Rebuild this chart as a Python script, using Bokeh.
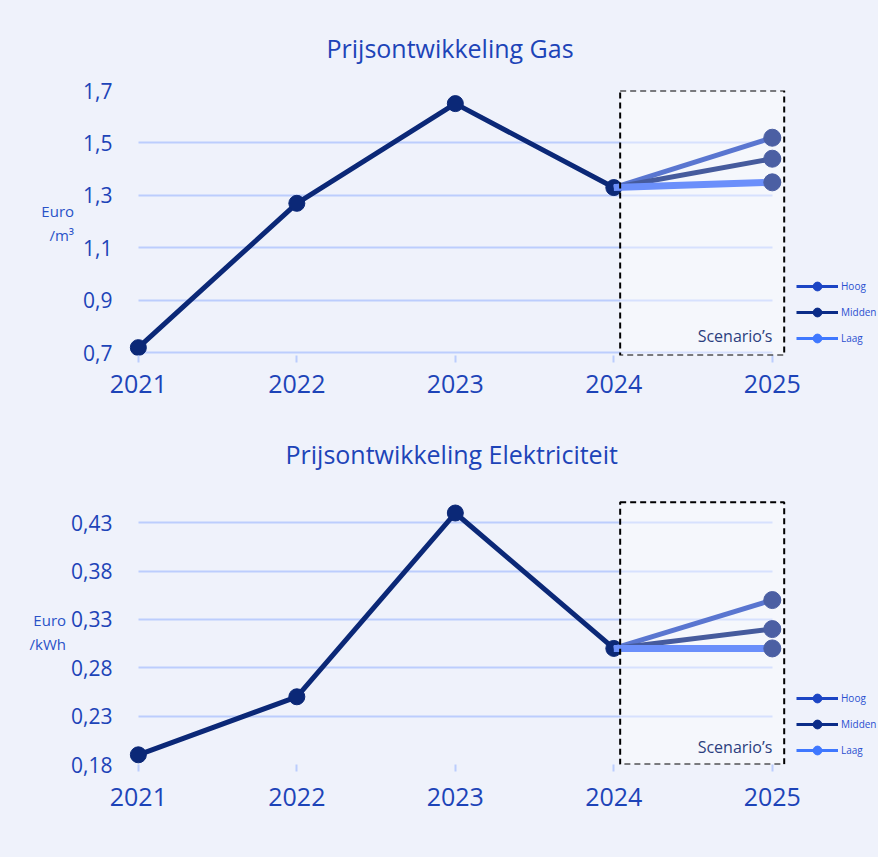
from bokeh.plotting import figure
from bokeh.models import (ColumnDataSource, FixedTicker, Legend, LegendItem, Label,
                          BoxAnnotation, Range1d)
from bokeh.layouts import column
from bokeh.embed import file_html
from bokeh.resources import INLINE

# ---------------- data ----------------
years = [2021, 2022, 2023, 2024]
scenario_year = 2025
scenario_names = ["Hoog", "Midden", "Laag"]

gas_values = [0.72, 1.27, 1.65, 1.33]
gas_scenarios = [1.52, 1.44, 1.35]          # Hoog, Midden, Laag (2025)

elec_values = [0.19, 0.25, 0.44, 0.30]
elec_scenarios = [0.35, 0.32, 0.30]         # Hoog, Midden, Laag (2025)

x_ticks = [2021, 2022, 2023, 2024, 2025]
x_tick_labels = ["2021", "2022", "2023", "2024", "2025"]
gas_ticks = [0.7, 0.9, 1.1, 1.3, 1.5, 1.7]
gas_tick_labels = ["0,7", "0,9", "1,1", "1,3", "1,5", "1,7"]
elec_ticks = [0.18, 0.23, 0.28, 0.33, 0.38, 0.43]
elec_tick_labels = ["0,18", "0,23", "0,28", "0,33", "0,38", "0,43"]

# ---------------- style ----------------
FONT = "Open Sans"
BG = "#eff2fb"
BLUE_TEXT = "#1d44b8"
NAVY = "#0b2877"
GRID = "#bccdfd"
SCEN_LINE = {"Hoog": "#5a76d0", "Midden": "#465b9d", "Laag": "#6b8ffb"}
SCEN_WIDTH = {"Hoog": 5, "Midden": 5, "Laag": 7}
SCEN_MARKER = "#4b5fa3"
LEG_COLORS = {"Hoog": "#1c45c4", "Midden": "#0b2c88", "Laag": "#3f78ff"}

FRAME_W = 756
LEFT = 122
X_START, X_END = 2020.9, 2025.67


def make_chart(title, values, scen_values, yticks, ylabels, yrange, box_top,
               unit_text, scen_label_y, top, frame_h, bottom, title_standoff,
               unit_standoff, xlabel_standoff, legend_vy, title_offset):
    p = figure(frame_width=FRAME_W, frame_height=frame_h,
               x_range=Range1d(X_START, X_END), y_range=Range1d(*yrange),
               output_backend="svg", toolbar_location=None,
               min_border_left=LEFT, min_border_right=0,
               min_border_top=top, min_border_bottom=bottom)
    p.background_fill_color = BG
    p.border_fill_color = BG
    p.outline_line_color = None

    p.title.text = title
    p.title.align = "left"
    p.title.offset = title_offset
    p.title.text_font = FONT
    p.title.text_font_size = "25px"
    p.title.text_font_style = "normal"
    p.title.text_color = BLUE_TEXT
    p.title.standoff = title_standoff

    # axes
    p.xaxis.ticker = FixedTicker(ticks=x_ticks)
    p.xaxis.major_label_overrides = dict(zip(x_ticks, x_tick_labels))
    p.xaxis.axis_line_color = None
    p.xaxis.major_tick_line_color = GRID
    p.xaxis.major_tick_line_width = 2
    p.xaxis.major_tick_out = 7
    p.xaxis.major_tick_in = 0
    p.xaxis.minor_tick_line_color = None
    p.xaxis.major_label_text_font = FONT
    p.xaxis.major_label_text_font_size = "25px"
    p.xaxis.major_label_text_color = BLUE_TEXT
    p.xaxis.major_label_standoff = xlabel_standoff

    p.yaxis.ticker = FixedTicker(ticks=yticks)
    p.yaxis.major_label_overrides = dict(zip(yticks, ylabels))
    p.yaxis.axis_line_color = None
    p.yaxis.major_tick_line_color = None
    p.yaxis.minor_tick_line_color = None
    p.yaxis.major_label_text_font = FONT
    p.yaxis.major_label_text_font_size = "21px"
    p.yaxis.major_label_text_color = BLUE_TEXT
    p.yaxis.major_label_standoff = 4
    p.yaxis.axis_label = unit_text
    p.yaxis.axis_label_orientation = "horizontal"
    p.yaxis.axis_label_text_font = FONT
    p.yaxis.axis_label_text_font_size = "15px"
    p.yaxis.axis_label_text_font_style = "normal"
    p.yaxis.axis_label_text_color = "#2a52c8"
    p.yaxis.axis_label_text_align = "center"
    p.yaxis.axis_label_standoff = unit_standoff

    p.xgrid.grid_line_color = None
    p.ygrid.ticker = FixedTicker(ticks=yticks)
    p.ygrid.grid_line_color = GRID
    p.ygrid.grid_line_width = 2
    try:
        p.ygrid.cross_bounds = (x_ticks[0], x_ticks[-1])
    except Exception:
        pass

    # scenario box
    p.add_layout(BoxAnnotation(left=2024.04, right=2025.075, bottom=yrange[0], top=box_top,
                               fill_color="white", fill_alpha=0.4, line_color=None,
                               level="underlay"))
    p.add_layout(BoxAnnotation(left=2024.04, right=2025.075, bottom=yrange[0], top=box_top,
                               fill_color=None, fill_alpha=0, line_color="black",
                               line_alpha=1.0, line_width=2, line_dash="6 4"))

    # main series
    src = ColumnDataSource(dict(x=years, y=values))
    p.line("x", "y", source=src, line_color=NAVY, line_width=5)
    p.scatter("x", "y", source=src, size=16, fill_color=NAVY, line_color=NAVY)

    # scenarios
    items = []
    for name, v in zip(scenario_names, scen_values):
        s = ColumnDataSource(dict(x=[years[-1], scenario_year], y=[values[-1], v]))
        p.line("x", "y", source=s, line_color=SCEN_LINE[name], line_width=SCEN_WIDTH[name])
    for name, v in zip(scenario_names, scen_values):
        s = ColumnDataSource(dict(x=[scenario_year], y=[v]))
        p.scatter("x", "y", source=s, size=17, fill_color=SCEN_MARKER, line_color=SCEN_MARKER)
    for name, v in zip(scenario_names, scen_values):
        s = ColumnDataSource(dict(x=[years[-1], scenario_year], y=[values[-1], v]))
        lr = p.line("x", "y", source=s, line_color=LEG_COLORS[name], line_width=3, visible=False)
        sr = p.scatter("x", "y", source=s, size=9, fill_color=LEG_COLORS[name],
                       line_color=LEG_COLORS[name], visible=False)
        items.append(LegendItem(label=name, renderers=[lr, sr]))

    legend = Legend(items=items, location=(796 - LEFT, legend_vy), padding=0, margin=0,
                    spacing=4, glyph_width=42, glyph_height=22, label_height=22,
                    label_standoff=3, label_text_font=FONT, label_text_font_size="10px",
                    label_text_color="#2b50d0", background_fill_alpha=0,
                    border_line_color=None)
    p.add_layout(legend, "center")

    p.add_layout(Label(x=2025, y=scen_label_y, text="Scenario\u2019s", text_align="right",
                       text_baseline="middle", text_font=FONT, text_font_size="16px",
                       text_color="#2c3e7e"))
    return p


p1 = make_chart("Prijsontwikkeling Gas", gas_values, gas_scenarios, gas_ticks,
                gas_tick_labels, (0.69, 1.7), 1.7, "Euro\n/m\u00b3", 0.765,
                90, 265, 52, 51, 6, 12, 6, 204)
p2 = make_chart("Prijsontwikkeling Elektriciteit", elec_values, elec_scenarios,
                elec_ticks, elec_tick_labels, (0.18, 0.455), 0.451, "Euro\n/kWh", 0.1985,
                90, 266, 94, 55, 2, 16, 3, 163)

layout = column(p1, p2, spacing=0, styles={"background-color": BG})
open("out.html", "w").write(file_html(layout, INLINE))
